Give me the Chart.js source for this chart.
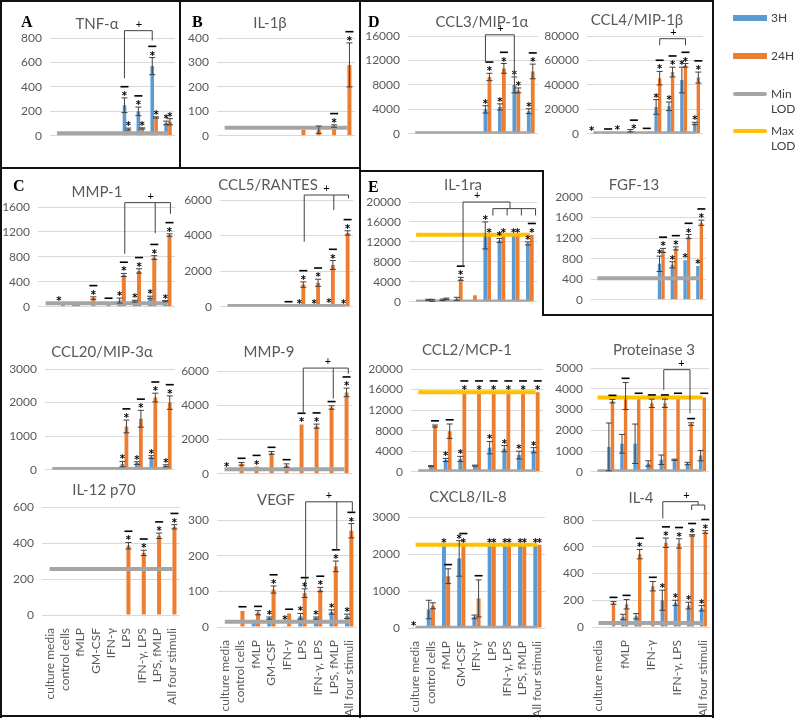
<!DOCTYPE html>
<html>
<head>
<meta charset="utf-8">
<script src="https://cdn.jsdelivr.net/npm/chart.js@4.4.1/dist/chart.umd.min.js"></script>
<style>
  body { margin: 0; background: #fff; width: 800px; height: 720px; position: relative; overflow: hidden; font-family: Lato, sans-serif; }
  canvas { position: absolute; }
  .ln { position: absolute; background: #111; }
  .letter { position: absolute; font: bold 16px "Liberation Serif", serif; color: #000; }
  .lg { position: absolute; font: 12px Lato, sans-serif; color: #404040; }
  .sw { position: absolute; }
</style>
</head>
<body>
<script>
const categories = ['culture media', 'control cells', 'fMLP', 'GM-CSF', 'IFN-γ', 'LPS', 'IFN-γ, LPS', 'LPS, fMLP', 'All four stimuli'];

// A - TNF-α
const tnf3h = [null, null, null, null, null, 250, 200, 570, 105];
const tnf3hErr = [0, 0, 0, 0, 0, 60, 35, 70, 15];
const tnf24h = [null, null, null, null, null, 55, 60, 150, 115];
const tnf24hErr = [0, 0, 0, 0, 0, 8, 5, 5, 25];
const tnf3hSig = ['', '', '', '', '', '-*', '-*', '-*', '*'];
const tnf24hSig = ['', '', '', '', '', '*', '*', '*', '*'];
const tnfBrackets = [{ top: 860, legs: [[4.86, 470], [6.86, 780]], plus: 5.9 }];

// B - IL-1β
const il1b3h = [null, null, null, null, null, null, null, null, null];
const il1b24h = [null, null, null, null, null, 25, 25, 40, 290];
const il1b24hErr = [0, 0, 0, 0, 0, 0, 15, 5, 90];
const il1b24hSig = ['', '', '', '', '', '', '', '-*', '-*'];

// D - CCL3/MIP-1α
const ccl3_3h = [null, null, null, null, null, 4000, 4400, 8000, 3700];
const ccl3_3hErr = [0, 0, 0, 0, 0, 600, 500, 1300, 400];
const ccl3_24h = [null, null, null, null, null, 9300, 10700, 7100, 10200];
const ccl3_24hErr = [0, 0, 0, 0, 0, 600, 800, 400, 1200];
const ccl3_3hSig = ['', '', '', '', '', '*', '*', '*', '*'];
const ccl3_24hSig = ['', '', '', '', '', '-*', '-*', '*', '-*'];
const ccl3Brackets = [{ top: 16200, legs: [[4.86, 11800], [6.86, 9400]], plus: 5.9 }];

// D - CCL4/MIP-1β
const ccl4_3h = [400, 200, 1200, 2500, 600, 22000, 22500, 44000, 8400];
const ccl4_3hErr = [0, 0, 0, 1000, 0, 6000, 3500, 10500, 1000];
const ccl4_24h = [100, 300, 600, 2000, 1000, 45500, 50500, 56000, 46000];
const ccl4_24hErr = [0, 0, 0, 0, 0, 5500, 4000, 1500, 4500];
const ccl4_3hSig = ['*', '', '*', '', '', '*', '*', '*', '*'];
const ccl4_24hSig = ['', '-', '', '-*', '-', '-*', '-*', '-*', '-*'];
const ccl4Brackets = [{ top: 77800, legs: [[5.14, 72400], [7.14, 72400]], plus: 6.2 }];

// C - MMP-1
const mmp1_3h = [null, null, 40, null, null, 100, 90, 150, 90];
const mmp1_3hErr = [0, 0, 0, 0, 0, 40, 15, 20, 10];
const mmp1_24h = [null, 40, 40, 140, 70, 510, 575, 790, 1150];
const mmp1_24hErr = [0, 0, 0, 20, 0, 25, 35, 30, 20];
const mmp1_3hSig = ['', '*', '', '', '', '*', '*', '*', '*'];
const mmp1_24hSig = ['', '', '', '-*', '-', '-*', '-*', '-*', '-*'];
const mmp1Brackets = [{ top: 1670, legs: [[5.2, 850], [7.2, 1180], [8.2, 1490]], plus: 6.9 }];

// C - CCL5/RANTES
const ccl5_3h = [null, null, null, null, null, 30, 30, 100, 30];
const ccl5_24h = [null, null, null, null, null, 1250, 1350, 2350, 4150];
const ccl5_24hErr = [0, 0, 0, 0, 0, 150, 200, 250, 120];
const ccl5_3hSig = ['', '', '', '', '', '*', '*', '*', '*'];
const ccl5_24hSig = ['', '', '', '', '-', '-*', '-*', '-*', '-*'];
const ccl5Brackets = [{ top: 6280, legs: [[5.2, 3660], [7.2, 5440], [8.2, 6090]], plus: 6.7 }];

// C - CCL20/MIP-3α
const ccl20_3h = [null, null, null, null, null, 170, 200, 380, 120];
const ccl20_3hErr = [0, 0, 0, 0, 0, 80, 40, 40, 30];
const ccl20_24h = [null, null, null, null, null, 1290, 1520, 2150, 2000];
const ccl20_24hErr = [0, 0, 0, 0, 0, 190, 250, 130, 200];
const ccl20_3hSig = ['', '', '', '', '', '*', '*', '*', '*'];
const ccl20_24hSig = ['', '', '', '', '', '-*', '-*', '-*', '-*'];

// C - MMP-9
const mmp9_3h = [null, null, null, null, null, null, null, null, null];
const mmp9_24h = [null, 580, 420, 1220, 480, 2880, 2780, 3870, 4750];
const mmp9_24hErr = [0, 80, 0, 80, 100, 0, 120, 100, 250];
const mmp9_24hSig = ['*', '-', '-*', '-', '-', '-*', '-*', '-', '-*'];
const mmp9Brackets = [{ top: 6170, legs: [[5.25, 3480], [7.25, 4390], [8.25, 5840]], plus: 6.9 }];

// C - IL-12 p70
const il12_3h = [null, null, null, null, null, null, null, null, null];
const il12_24h = [null, null, null, null, null, 385, 345, 440, 490];
const il12_24hErr = [0, 0, 0, 0, 0, 18, 15, 15, 12];
const il12_24hSig = ['', '', '', '', '', '-*', '-*', '-*', '-*'];

// C - VEGF
const vegf3h = [null, null, 20, 25, 2, 30, 25, 42, 30];
const vegf3hErr = [0, 0, 0, 3, 0, 8, 3, 6, 6];
const vegf24h = [null, 45, 40, 105, 38, 95, 105, 170, 270];
const vegf24hErr = [0, 0, 6, 10, 0, 12, 6, 15, 20];
const vegf3hSig = ['', '', '', '*', '*', '*', '*', '*', '*'];
const vegf24hSig = ['', '-', '-', '-*', '-', '-*', '-*', '-*', '-*'];
const vegfBrackets = [{ top: 351, legs: [[5.2, 108], [7.2, 216], [8.2, 323]], plus: 6.7 }];

// E - IL-1ra
const il1ra3h = [null, 400, 400, 600, null, 13300, 12300, 13300, 11700];
const il1ra3hErr = [0, 100, 150, 300, 0, 2700, 400, 0, 300];
const il1ra24h = [null, 300, 600, 4600, 1300, 13450, 13450, 13450, 13450];
const il1ra24hErr = [0, 200, 150, 300, 0, 0, 0, 0, 0];
const il1ra3hSig = ['', '', '', '', '', '*', '*', '*', '*'];
const il1ra24hSig = ['', '', '', '-*', '', '*', '*', '*', '-*'];
const il1raBrackets = [
  { top: 20000, legs: [[3.3, 7000], [6.6, 18670]], plus: 4.3 },
  { top: 18670, legs: [[5.4, 17300], [6.4, 17300], [7.4, 17300], [8.4, 17300]] }
];

// E - FGF-13
const fgf3h = [null, null, null, null, null, 700, 680, 770, 660];
const fgf3hErr = [0, 0, 0, 0, 0, 150, 60, 0, 0];
const fgf24h = [null, null, null, null, null, 960, 1000, 1230, 1500];
const fgf24hErr = [0, 0, 0, 0, 0, 40, 30, 40, 50];
const fgf3hSig = ['', '', '', '', '', '*', '*', '*', '*'];
const fgf24hSig = ['', '', '', '', '', '-*', '-*', '-*', '-*'];

// E - CCL2/MCP-1
const ccl2_3h = [null, 1100, 2300, 2500, 1200, 4700, 4500, 3250, 4200];
const ccl2_3hErr = [0, 100, 300, 500, 100, 1200, 600, 750, 500];
const ccl2_24h = [null, 8900, 7900, 15500, 15500, 15500, 15500, 15500, 15500];
const ccl2_24hErr = [0, 200, 1400, 0, 0, 0, 0, 0, 0];
const ccl2_3hSig = ['', '', '*', '*', '', '*', '*', '*', '*'];
const ccl2_24hSig = ['', '-', '-', '-*', '-*', '-*', '-*', '-*', '-*'];

// E - Proteinase 3
const pr3_3h = [null, 1200, 1350, 1350, 400, 580, 580, 400, 780];
const pr3_3hErr = [0, 1150, 450, 950, 130, 230, 30, 60, 250];
const pr3_24h = [null, 3400, 3650, 3580, 3300, 3300, 3580, 2300, 3580];
const pr3_24hErr = [0, 80, 650, 0, 200, 200, 0, 60, 0];
const pr3_24hSig = ['', '-', '-', '-', '-', '-', '-', '-', '-'];
const pr3Brackets = [{ top: 4920, legs: [[5.05, 3950], [7.05, 2820]], plus: 6.4 }];

// E - CXCL8/IL-8
const il8_3h = [5, 500, 2250, 1880, 300, 2250, 2250, 2250, 2250];
const il8_3hErr = [0, 250, 0, 480, 50, 0, 0, 0, 0];
const il8_24h = [null, 600, 1400, 2250, 800, 2250, 2250, 2250, 2250];
const il8_24hErr = [0, 80, 200, 0, 500, 0, 0, 0, 0];
const il8_3hSig = ['*', '', '*', '*', '', '*', '*', '*', '*'];
const il8_24hSig = ['', '', '-', '-*', '-', '*', '*', '*', '*'];

// E - IL-4
const il4_3h = [null, null, 75, 80, null, 200, 180, 160, 140];
const il4_3hErr = [0, 0, 20, 20, 0, 75, 20, 25, 20];
const il4_24h = [null, 180, 170, 545, 305, 630, 625, 685, 710];
const il4_24hErr = [0, 10, 35, 35, 35, 35, 35, 5, 10];
const il4_3hSig = ['', '', '', '', '', '*', '*', '*', '*'];
const il4_24hSig = ['', '-', '-', '-*', '-', '-*', '-*', '-*', '-*'];
const il4Brackets = [
  { top: 937, legs: [[4.9, 812], [7.6, 912]], plus: 6.7 },
  { top: 912, legs: [[7.1, 875], [8.1, 875]] }
];

// panel list: data + layout [plotLeft, plotRight, yTopPx, yZeroPx, titleX, titleY]
const panels = [
  { title: 'TNF-α', max: 800, step: 200, s3: tnf3h, e3: tnf3hErr, g3: tnf3hSig, s24: tnf24h, e24: tnf24hErr, g24: tnf24hSig, lod: 20, br: tnfBrackets, box: [50, 175, 38, 136, 97, 24] },
  { title: 'IL-1β', max: 400, step: 100, s3: il1b3h, s24: il1b24h, e24: il1b24hErr, g24: il1b24hSig, lod: 33, box: [217, 355, 38, 136, 270, 23] },
  { title: 'CCL3/MIP-1α', max: 16000, step: 4000, s3: ccl3_3h, e3: ccl3_3hErr, g3: ccl3_3hSig, s24: ccl3_24h, e24: ccl3_24hErr, g24: ccl3_24hSig, lod: 100, br: ccl3Brackets, box: [408, 538, 36, 134, 482, 22] },
  { title: 'CCL4/MIP-1β', max: 80000, step: 20000, s3: ccl4_3h, e3: ccl4_3hErr, g3: ccl4_3hSig, s24: ccl4_24h, e24: ccl4_24hErr, g24: ccl4_24hSig, lod: 500, br: ccl4Brackets, box: [587, 703, 36, 134, 637, 20] },
  { title: 'MMP-1', max: 1600, step: 400, s3: mmp1_3h, e3: mmp1_3hErr, g3: mmp1_3hSig, s24: mmp1_24h, e24: mmp1_24hErr, g24: mmp1_24hSig, lod: 55, br: mmp1Brackets, box: [38, 175, 207, 307, 97, 192] },
  { title: 'CCL5/RANTES', max: 6000, step: 2000, s3: ccl5_3h, g3: ccl5_3hSig, s24: ccl5_24h, e24: ccl5_24hErr, g24: ccl5_24hSig, lod: 50, br: ccl5Brackets, box: [220, 353, 200, 307, 268, 185] },
  { title: 'IL-1ra', max: 20000, step: 4000, s3: il1ra3h, e3: il1ra3hErr, g3: il1ra3hSig, s24: il1ra24h, e24: il1ra24hErr, g24: il1ra24hSig, lod: 50, maxLod: 13450, br: il1raBrackets, box: [409, 537, 202, 302, 463, 185] },
  { title: 'FGF-13', max: 2000, step: 400, s3: fgf3h, e3: fgf3hErr, g3: fgf3hSig, s24: fgf24h, e24: fgf24hErr, g24: fgf24hSig, lod: 420, box: [591, 706, 197, 300, 634, 185] },
  { title: 'CCL20/MIP-3α', max: 3000, step: 1000, s3: ccl20_3h, e3: ccl20_3hErr, g3: ccl20_3hSig, s24: ccl20_24h, e24: ccl20_24hErr, g24: ccl20_24hSig, lod: 25, box: [45, 175, 369, 470, 102, 352] },
  { title: 'MMP-9', max: 6000, step: 2000, s3: mmp9_3h, s24: mmp9_24h, e24: mmp9_24hErr, g24: mmp9_24hSig, lod: 260, br: mmp9Brackets, box: [217, 352, 371, 474, 269, 352] },
  { title: 'CCL2/MCP-1', max: 20000, step: 4000, s3: ccl2_3h, e3: ccl2_3hErr, g3: ccl2_3hSig, s24: ccl2_24h, e24: ccl2_24hErr, g24: ccl2_24hSig, lod: 100, maxLod: 15500, box: [411, 543, 369, 472, 467, 350] },
  { title: 'Proteinase 3', max: 5000, step: 1000, s3: pr3_3h, e3: pr3_3hErr, s24: pr3_24h, e24: pr3_24hErr, g24: pr3_24hSig, lod: 30, maxLod: 3580, br: pr3Brackets, box: [591, 709, 368, 472, 654, 350] },
  { title: 'IL-12 p70', max: 600, step: 200, s3: il12_3h, s24: il12_24h, e24: il12_24hErr, g24: il12_24hSig, lod: 255, box: [42, 180, 507, 615, 104, 490], xl: true },
  { title: 'VEGF', max: 300, step: 100, s3: vegf3h, e3: vegf3hErr, g3: vegf3hSig, s24: vegf24h, e24: vegf24hErr, g24: vegf24hSig, lod: 15, br: vegfBrackets, box: [217, 357, 520, 627, 276, 500], xl: true },
  { title: 'CXCL8/IL-8', max: 3000, step: 1000, s3: il8_3h, e3: il8_3hErr, g3: il8_3hSig, s24: il8_24h, e24: il8_24hErr, g24: il8_24hSig, lod: 10, maxLod: 2250, box: [408, 545, 517, 628, 468, 497], xl: true },
  { title: 'IL-4', max: 800, step: 200, s3: il4_3h, e3: il4_3hErr, g3: il4_3hSig, s24: il4_24h, e24: il4_24hErr, g24: il4_24hSig, lod: 30, br: il4Brackets, box: [592, 710, 520, 627, 641, 498], xl: true, skip: true }
];

const BLUE = '#5b9bd5', ORANGE = '#ed7d31', GRAY = '#a5a5a5', GOLD = '#ffc000', INK = '#404040';
const CAT_PCT = 0.55;
const TITLE_SIZE = 15, TITLE_LH = 18;

// error bars, significance marks and brackets
const annot = {
  id: 'annot',
  afterDatasetsDraw(chart, args, opts) {
    const ctx = chart.ctx, xs = chart.scales.x, ys = chart.scales.y;
    ctx.save();
    chart.data.datasets.forEach(ds => {
      if (ds.type === 'line') return;
      const off = ds.side * CAT_PCT / 4;
      ds.data.forEach((v, i) => {
        const px = xs.getPixelForValue(i + off);
        const e = ds.err && ds.err[i] ? ds.err[i] : 0;
        if (v != null && e) {
          const yHi = ys.getPixelForValue(v + e), yLo = ys.getPixelForValue(Math.max(v - e, 0));
          ctx.strokeStyle = INK; ctx.lineWidth = 1;
          ctx.beginPath();
          ctx.moveTo(px, yHi); ctx.lineTo(px, yLo);
          ctx.moveTo(px - 3, yHi); ctx.lineTo(px + 3, yHi);
          ctx.moveTo(px - 3, yLo); ctx.lineTo(px + 3, yLo);
          ctx.stroke();
        }
        const sig = ds.sig ? ds.sig[i] : '';
        if (!sig) return;
        const top = Math.max((v || 0) + e, opts.lod || 0);
        let yp = ys.getPixelForValue(top) - 2;
        const stars = sig.replace('-', '');
        ctx.fillStyle = '#000';
        if (stars) {
          ctx.font = 'bold 10px "DejaVu Sans"';
          ctx.textAlign = 'center';
          ctx.textBaseline = 'alphabetic';
          ctx.fillText(stars, px, yp + 3);
          yp -= 7;
        }
        if (sig.indexOf('-') >= 0) {
          ctx.fillRect(px - 4, yp - 3, 8, 1.6);
        }
      });
    });
    (opts.brackets || []).forEach(b => {
      const yt = ys.getPixelForValue(b.top);
      const xsPix = b.legs.map(l => xs.getPixelForValue(l[0]));
      ctx.strokeStyle = INK; ctx.lineWidth = 1;
      ctx.beginPath();
      ctx.moveTo(Math.min(...xsPix), yt); ctx.lineTo(Math.max(...xsPix), yt);
      b.legs.forEach((l, k) => { ctx.moveTo(xsPix[k], yt); ctx.lineTo(xsPix[k], ys.getPixelForValue(l[1])); });
      ctx.stroke();
      if (b.plus != null) {
        ctx.fillStyle = '#000';
        ctx.font = '11px Lato';
        ctx.textAlign = 'center';
        ctx.textBaseline = 'bottom';
        ctx.fillText('+', xs.getPixelForValue(b.plus), yt - 1);
      }
    });
    ctx.restore();
  }
};

function lodLine(label, v, color) {
  return { type: 'line', label, data: categories.map(() => v), borderColor: color, borderWidth: 4, pointRadius: 0, order: 1 };
}

function makeChart(p, g) {
  const cv = document.createElement('canvas');
  cv.width = g.width;
  cv.height = g.height;
  cv.style.left = g.left + 'px';
  cv.style.top = g.top + 'px';
  document.body.appendChild(cv);

  const datasets = [];
  if (p.maxLod != null) datasets.push(lodLine('Max LOD', p.maxLod, GOLD));
  datasets.push(lodLine('Min LOD', p.lod, GRAY));
  datasets.push({ type: 'bar', label: '3H', data: p.s3, err: p.e3, sig: p.g3, side: -1, backgroundColor: BLUE, order: 2 });
  datasets.push({ type: 'bar', label: '24H', data: p.s24, err: p.e24, sig: p.g24, side: 1, backgroundColor: ORANGE, order: 2 });

  return new Chart(cv, {
    type: 'bar',
    data: { labels: categories, datasets },
    options: {
      responsive: false,
      maintainAspectRatio: false,
      animation: false,
      layout: { padding: 0 },
      datasets: { bar: { categoryPercentage: CAT_PCT, barPercentage: 0.95 } },
      plugins: {
        legend: { display: false },
        tooltip: { enabled: false },
        title: {
          display: true, text: p.title, color: '#595959',
          font: { family: 'Lato', size: TITLE_SIZE, weight: 'normal', lineHeight: TITLE_LH / TITLE_SIZE },
          padding: { top: 0, bottom: g.pb }
        },
        annot: { brackets: p.br, lod: p.lod }
      },
      scales: {
        x: {
          grid: { display: false },
          border: { display: false },
          ticks: {
            display: !!p.xl, autoSkip: false, maxRotation: 90, minRotation: 90, padding: 5,
            color: '#595959', font: { family: 'Lato', size: 12 },
            callback: function (val, idx) { return p.skip && idx % 2 ? '' : this.getLabelForValue(val); }
          },
          afterFit: s => { s.height = g.xH; }
        },
        y: {
          min: 0, max: p.max,
          ticks: { stepSize: p.step, color: '#595959', font: { family: 'Lato', size: 12 }, padding: 8, callback: v => String(v) },
          grid: { color: '#d9d9d9', drawTicks: false },
          border: { display: false },
          afterFit: s => { s.width = g.axisW; }
        },
        pad: {
          position: 'right', display: g.extraR > 0,
          grid: { display: false }, border: { display: false }, ticks: { display: false },
          afterFit: s => { s.width = g.extraR; }
        }
      }
    },
    plugins: [annot]
  });
}

function build(p) {
  const [plotL, plotR, yTop, y0, titleX, titleY] = p.box;
  // canvas spans symmetric round the title centre
  let axisW = 48;
  let left = plotL - axisW;
  let right = 2 * titleX - left;
  if (right < plotR) { right = plotR; left = 2 * titleX - right; axisW = plotL - left; }
  const top = Math.round(titleY - TITLE_LH / 2);
  const xH = p.xl ? 92 : 8;
  const g = { left, top, width: right - left, height: y0 + xH - top, axisW, extraR: right - plotR, xH, pb: Math.max(0, yTop - top - TITLE_LH) };
  let chart = makeChart(p, g);
  // measure and correct the plot area once
  const ca = chart.chartArea;
  g.pb = Math.max(0, g.pb + (yTop - top) - ca.top);
  g.height = g.height + (y0 - top) - ca.bottom;
  const cv = chart.canvas;
  chart.destroy();
  cv.remove();
  makeChart(p, g);
}

panels.forEach(build);

// frame lines, panel letters and shared legend
const hLines = [[0, 1, 713], [0, 168, 360], [360, 171, 543], [543, 315, 713], [0, 716, 713]];
const vLines = [[1, 0, 717], [180, 0, 168], [360, 0, 717], [543, 171, 315], [713, 0, 717]];
hLines.forEach(([x1, y, x2]) => {
  const d = document.createElement('div'); d.className = 'ln';
  Object.assign(d.style, { left: x1 + 'px', top: (y - 1) + 'px', width: (x2 - x1 + 1) + 'px', height: '2px' });
  document.body.appendChild(d);
});
vLines.forEach(([x, y1, y2]) => {
  const d = document.createElement('div'); d.className = 'ln';
  Object.assign(d.style, { left: (x - 1) + 'px', top: y1 + 'px', width: '2px', height: (y2 - y1 + 1) + 'px' });
  document.body.appendChild(d);
});
[['A', 21, 13], ['B', 192, 13], ['C', 13, 177], ['D', 368, 13], ['E', 368, 178]].forEach(([t, x, y]) => {
  const d = document.createElement('div'); d.className = 'letter'; d.textContent = t;
  d.style.left = x + 'px'; d.style.top = y + 'px';
  document.body.appendChild(d);
});

const legendItems = [
  { text: '3H', color: BLUE, y: 18, h: 6, bar: true },
  { text: '24H', color: ORANGE, y: 56, h: 6, bar: true },
  { text: 'Min<br>LOD', color: GRAY, y: 94, h: 4 },
  { text: 'Max<br>LOD', color: GOLD, y: 131, h: 4 }
];
legendItems.forEach(it => {
  const s = document.createElement('div'); s.className = 'sw';
  Object.assign(s.style, { left: '733px', top: (it.y - it.h / 2) + 'px', width: '34px', height: it.h + 'px', background: it.color, borderRadius: it.bar ? '0' : '2px' });
  document.body.appendChild(s);
  const t = document.createElement('div'); t.className = 'lg'; t.innerHTML = it.text;
  Object.assign(t.style, { left: '771px', top: (it.y - 8) + 'px', lineHeight: '15px' });
  document.body.appendChild(t);
});
</script>
</body>
</html>
